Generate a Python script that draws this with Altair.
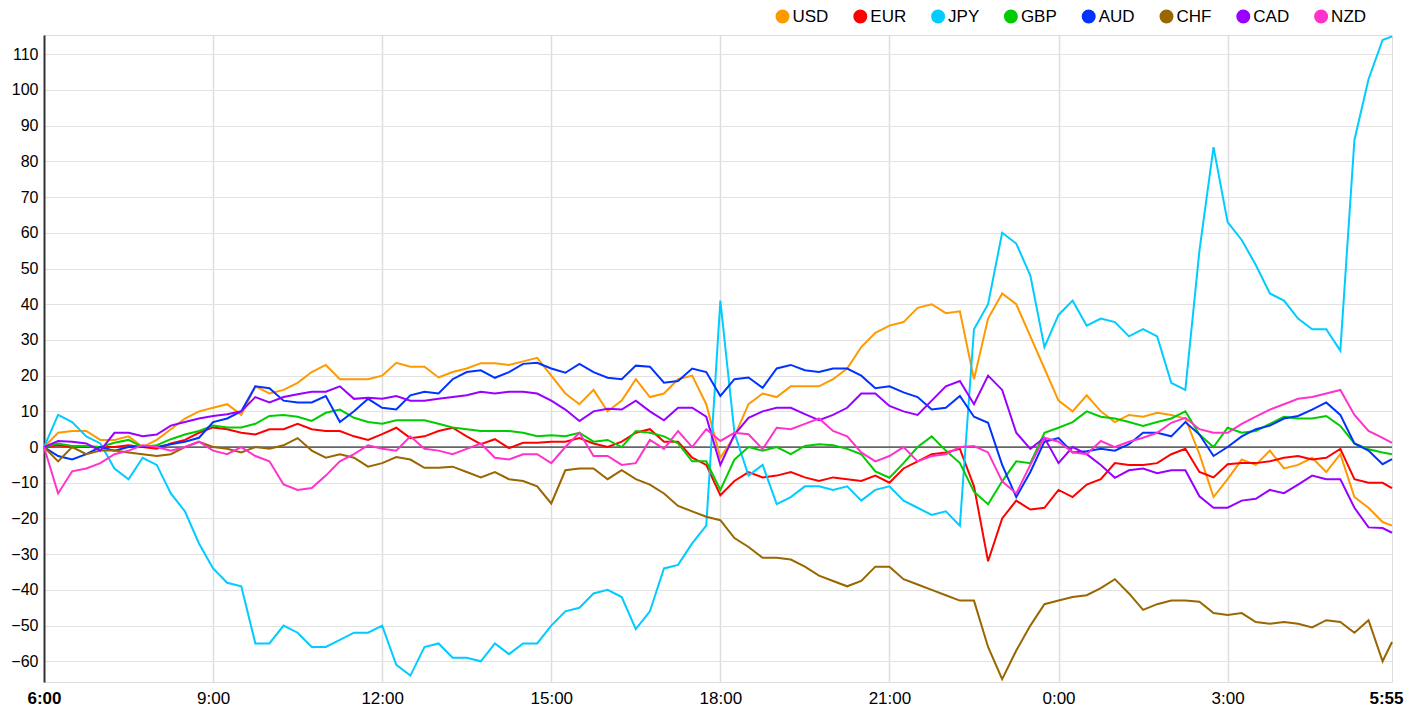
import altair as alt
import pandas as pd

currencies = ["USD", "EUR", "JPY", "GBP", "AUD", "CHF", "CAD", "NZD"]
colors = ["#ff9900", "#ff0000", "#00ccff", "#00cc00", "#0033ff", "#996600", "#9900ff", "#ff33cc"]

# minutes after 6:00, every 15 minutes, plus the last point at 5:55
times = list(range(0, 1440, 15)) + [1435]

usd = [0, 4, 4.5, 4.5, 2, 2, 3, 0, 2, 5, 8, 10, 11, 12, 9, 17, 15, 16, 18, 21,
       23, 19, 19, 19, 20, 23.6, 22.5, 22.5, 19.5, 21, 22, 23.5, 23.5, 23, 24, 25,
       20, 15, 12, 16, 10, 13, 19, 14, 15, 19, 20, 12, -3, 3, 12, 15, 14, 17, 17, 17,
       19, 22, 28, 32, 34, 35, 39, 40, 37.5, 38, 19, 36, 43, 40, 31, 22, 13, 10, 14.5, 10,
       7, 9, 8.5, 9.6, 9, 8, -2, -14, -9, -3.5, -5, -1, -6, -5, -3, -7, -2, -14, -17, -21,
       -22]
eur = [0, 0.5, 0, 0, 0, 0, 0.5, 0, -0.5, 1, 2, 4, 5.5, 5, 4, 3.5, 5, 5, 6.5, 5,
       4.5, 4.5, 3, 2, 3.6, 5.4, 2.5, 3, 4.5, 5.4, 3, 0.8, 2.2, -0.3, 1.2, 1.2,
       1.5, 1.5, 2.5, 1, 0, 1.5, 4, 5, 1.5, 1.5, -3, -5, -13.5, -9.5, -7, -8.5, -8, -7, -8.5, -9.5,
       -8.5, -9, -9.5, -8, -10, -6, -4, -2, -1.5, -0.5, -11, -32, -20, -15, -17.5, -17, -12, -14, -10.5, -9,
       -4.5, -5, -5, -4.5, -2, -0.5, -7, -8.5, -4.8, -4.5, -4.5, -4, -3, -2.5, -3.5, -3, -0.5, -9, -10, -10,
       -11.5]
jpy = [0, 9, 7, 3, 1, -6, -9, -3, -5, -13, -18, -27, -34, -38, -39, -55, -55, -50, -52, -56,
       -56, -54, -52, -52, -50, -61, -64, -56, -55, -59, -59, -60, -55, -58, -55, -55,
       -50, -46, -45, -41, -40, -42, -51, -46, -34, -33, -27, -22, 41, 4, -8, -5, -16, -14, -11, -11,
       -12, -11, -15, -12, -11, -15, -17, -19, -18, -22, 33, 40, 60, 57, 48, 28, 37, 41, 34, 36,
       35, 31, 33, 31, 18, 16, 55, 84, 63, 58, 51, 43, 41, 36, 33, 33, 27, 86, 103, 114,
       115]
gbp = [0, 1, 0.3, 0.3, 0, 1.2, 2, 0, 0.5, 2.2, 3.5, 4.5, 6, 5.5, 5.5, 6.5, 8.7, 9, 8.5, 7.3,
       9.6, 10.5, 8.2, 7, 6.5, 7.5, 7.5, 7.5, 6.5, 5.5, 5, 4.5, 4.5, 4.5, 4, 3,
       3.3, 3, 4, 1.5, 2, 0, 4.5, 4, 3, 1, -4, -4, -12, -3.5, 0, -1, 0, -2, 0.3, 0.8,
       0.5, -0.5, -2, -6.8, -8.6, -4.5, 0, 3, -1, -4.5, -12.5, -16, -9.6, -4, -4.5, 4, 5.4, 7, 10, 8.5,
       8, 7, 5.9, 7, 8, 10, 3.5, 0, 5.4, 4, 4.5, 6.5, 8.5, 8, 8, 8.7, 5.9, 1, -0.6, -1.5,
       -2]
aud = [0, -2.5, -3.5, -2, 0, -1, 0, 0, 0, 0.8, 1.5, 2.6, 7, 8, 10, 17, 16.5, 13, 12.5, 12.5,
       14.3, 7, 10, 13.5, 11, 10.5, 14.5, 15.5, 15, 19, 21, 21.5, 19.4, 21, 23.3, 23.6,
       22, 20.8, 23.3, 21, 19.4, 19, 22.8, 22.5, 18, 18.5, 22, 21, 14.3, 19, 19.5, 16.6, 22, 23, 21.5, 21,
       22, 22, 20, 16.5, 17, 15.3, 14, 10.5, 11, 14.3, 8.5, 6.8, -5, -14, -7, 1.5, 2.5, -1.5, -1.2, -0.5,
       -1, 0.8, 4, 4, 3, 7, 3.5, -2.5, 0, 3, 5, 6, 8, 8.7, 10.5, 12.5, 9, 1, -1, -4.8,
       -3.4]
chf = [0, -4, 0, -2, -1, -1, -1.5, -2, -2.5, -2, 0, 1.5, 0, -0.5, -1.5, 0, -0.5, 0.5, 2.5, -1,
       -3, -2, -3, -5.5, -4.5, -2.8, -3.5, -5.8, -5.8, -5.5, -7, -8.5, -7, -9, -9.5, -11,
       -15.8, -6.5, -6, -6, -9, -6.5, -9, -10.5, -13, -16.5, -18, -19.5, -20.5, -25.5, -28, -31, -31, -31.5, -33.5, -36,
       -37.5, -39, -37.5, -33.5, -33.5, -37, -38.5, -40, -41.5, -43, -43, -56, -65, -57, -50, -44, -43, -42, -41.5, -39.5,
       -37, -41, -45.6, -44, -43, -43, -43.3, -46.5, -47, -46.5, -49, -49.5, -49, -49.5, -50.5, -48.5, -49, -52, -48.5, -60,
       -54.6]
cad = [0, 1.7, 1.5, 1, -1, 4, 4, 3, 3.5, 6, 7, 8, 8.7, 9.2, 10, 14, 12.5, 14, 14.8, 15.5,
       15.5, 17, 13.5, 13.8, 13.5, 14.3, 13, 13, 13.5, 14, 14.5, 15.5, 15, 15.5, 15.5, 15,
       13, 10.5, 7.3, 10, 10.7, 10.5, 13, 10, 7.5, 11, 11, 8.5, -5, 3.5, 8.2, 10, 11, 11, 9.2, 7.5,
       9, 11, 15, 15, 11.5, 10, 9, 13, 17, 18.5, 12, 20, 16, 4, -0.5, 2.6, -4.5, 0, -2, -5,
       -8.6, -6.5, -6, -7.3, -6.5, -6.5, -13.8, -17, -17, -15, -14.5, -12, -12.9, -10.5, -8, -9, -9, -17, -22.5, -22.7,
       -24]
nzd = [0, -13, -6.8, -6, -4.5, -2, -1, 0.5, 0, -1, 0, 1.5, -1, -2, 0, -2.5, -4, -10.5, -12, -11.5,
       -8, -4, -2, 0.5, -0.5, -1, 3, -0.5, -1, -2, -0.5, 1, -3, -3.5, -2, -2,
       -4.5, 0, 4, -2.5, -2.5, -5, -4.5, 2, -0.5, 4.5, 0, 5, 1.7, 4, 3.6, -0.6, 5.4, 5, 6.5, 8,
       4.5, 3, -1.5, -4, -2.5, 0, -4, -2.5, -2, 0, 0.3, -1.5, -9.6, -13, -5, 2.6, 1.5, -1.5, -2, 1.7,
       0, 1.5, 2.6, 4, 6.8, 8.2, 5, 4, 4, 6.5, 8.5, 10.5, 12, 13.5, 14, 15, 16, 9, 4.5, 2.6,
       1.2]

series = {"USD": usd, "EUR": eur, "JPY": jpy, "GBP": gbp, "AUD": aud, "CHF": chf, "CAD": cad, "NZD": nzd}

rows = []
for cur in currencies:
    vals = series[cur]
    for t, v in zip(times, vals):
        rows.append({"t": t, "value": v, "currency": cur})
df = pd.DataFrame(rows)

x_ticks = [0, 180, 360, 540, 720, 900, 1080, 1260, 1435]
y_ticks = list(range(-60, 111, 10))

FONT = "Liberation Sans"
EDGE = "datum.value == 0 || datum.value > 1400"

x_axis = alt.Axis(
    values=x_ticks,
    title=None,
    domain=False,
    ticks=False,
    tickSize=0,
    labelFontSize=17,
    labelFont=FONT,
    labelColor="#000000",
    labelPadding=8,
    labelFlush=False,
    labelOverlap=False,
    labelBound=False,
    labelOffset={"condition": {"test": "datum.value > 1400", "value": -6}, "value": 0},
    labelExpr="floor(((datum.value / 60) + 6) % 24) + ':' + (datum.value % 60 < 10 ? '0' : '') + (datum.value % 60)",
    labelFontWeight={"condition": {"test": EDGE, "value": "bold"}, "value": "normal"},
    grid=True,
    gridColor={"condition": {"test": EDGE, "value": "transparent"}, "value": "#dedede"},
    gridWidth=1.5,
)

y_axis = alt.Axis(
    values=y_ticks,
    title=None,
    domain=True,
    domainColor="#333333",
    domainWidth=2,
    ticks=False,
    tickSize=0,
    labelFontSize=16,
    labelFont=FONT,
    labelColor="#000000",
    labelPadding=6,
    grid=True,
    gridColor="#e2e2e2",
    gridWidth=1.2,
)

x_scale = alt.Scale(domain=[0, 1435], nice=False, zero=False)
y_scale = alt.Scale(domain=[-65.8, 115.4], nice=False, zero=False)
cur_scale = alt.Scale(domain=currencies, range=colors)

zero_df = pd.DataFrame({"v": [0]})
zero_line = alt.Chart(zero_df).mark_rule(color="#000000", strokeWidth=1).encode(
    y=alt.Y("v:Q", scale=y_scale, axis=y_axis)
)

lines = alt.Chart(df).mark_line(strokeWidth=2, interpolate="linear").encode(
    x=alt.X("t:Q", axis=x_axis, scale=x_scale),
    y=alt.Y("value:Q", scale=y_scale, axis=y_axis),
    color=alt.Color(
        "currency:N",
        sort=currencies,
        scale=cur_scale,
        legend=alt.Legend(
            title=None,
            orient="none",
            direction="horizontal",
            legendX=730,
            legendY=-27,
            padding=0,
            symbolType="circle",
            symbolSize=49,
            symbolStrokeWidth=7,
            symbolOpacity=1,
            labelFontSize=17,
            labelFont=FONT,
            labelColor="#000000",
            labelOffset=1.5,
            columnPadding=13.8,
        ),
    ),
    detail="currency:N",
)

chart = alt.layer(zero_line, lines).properties(
    width=1348,
    height=647,
    padding={"left": 36, "top": 27, "right": 12, "bottom": 26},
    autosize="none",
).configure_view(stroke=None).configure(font=FONT)

chart.save("out.html", embed_options={"renderer": "svg", "actions": False})
